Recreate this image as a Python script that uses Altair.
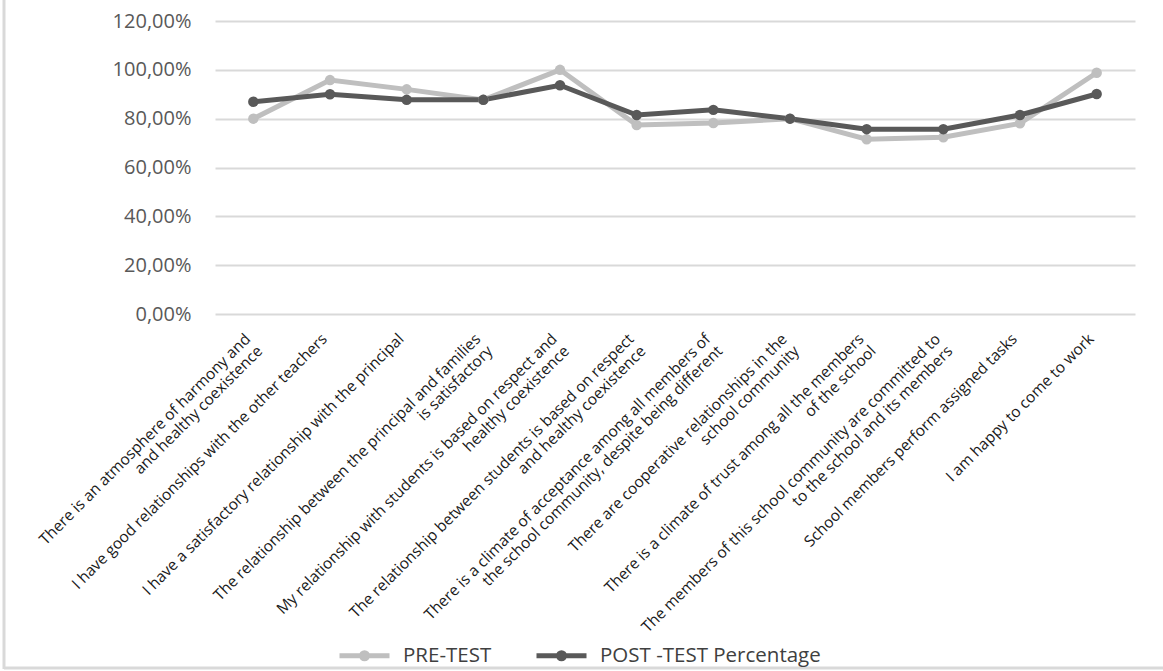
import altair as alt
import pandas as pd

categories = [
    "There is an atmosphere of harmony and\nand healthy coexistence",
    "I have good relationships with the other teachers",
    "I have a satisfactory relationship with the principal",
    "The relationship between the principal and families\nis satisfactory",
    "My relationship with students is based on respect and\nhealthy coexistence",
    "The relationship between students is based on respect\nand healthy coexistence",
    "There is a climate of acceptance among all members of\nthe school community, despite being different",
    "There are cooperative relationships in the\nschool community",
    "There is a climate of trust among all the members\nof the school",
    "The members of this school community are committed to\nto the school and its members",
    "School members perform assigned tasks",
    "I am happy to come to work",
]
pre_test = [0.80, 0.958, 0.92, 0.877, 1.00, 0.774, 0.782, 0.80, 0.716, 0.724, 0.781, 0.988]
post_test = [0.869, 0.90, 0.877, 0.877, 0.937, 0.815, 0.836, 0.80, 0.757, 0.757, 0.815, 0.901]
series_names = ["PRE-TEST", "POST -TEST Percentage"]
y_ticks = [0, 0.2, 0.4, 0.6, 0.8, 1.0, 1.2]

rows = []
for i, c in enumerate(categories):
    rows.append({"item": c, "series": series_names[0], "value": pre_test[i], "order": i})
    rows.append({"item": c, "series": series_names[1], "value": post_test[i], "order": i})
df = pd.DataFrame(rows)

FONT = "Open Sans"
color_scale = alt.Scale(domain=series_names, range=["#BFBFBF", "#595959"])

legend_symbol = "M -1 0 L 1 0 M -0.12 0 A 0.12 0.12 0 1 1 0.12 0 A 0.12 0.12 0 1 1 -0.12 0 Z"

x_enc = alt.X(
    "item:N",
    sort=categories,
    title=None,
    axis=alt.Axis(
        labelAngle=-45,
        labelAlign="right",
        labelBaseline="middle",
        labelExpr="split(datum.label, '\\n')",
        labelFont=FONT,
        labelFontSize=15.5,
        labelColor="#1a1a1a",
        labelPadding=22,
        labelOffset=-6,
        labelLimit=0,
        labelLineHeight=17,
        ticks=False,
        domain=False,
        grid=False,
    ),
)
y_enc = alt.Y(
    "value:Q",
    title=None,
    scale=alt.Scale(domain=[0, 1.2], nice=False),
    axis=alt.Axis(
        values=y_ticks,
        labelExpr="replace(format(datum.value, '.2%'), '.', ',')",
        labelFont=FONT,
        labelFontSize=20,
        labelColor="#595959",
        labelPadding=24,
        ticks=False,
        domain=False,
        grid=True,
        gridColor="#D9D9D9",
        gridWidth=2,
    ),
)
color_enc = alt.Color(
    "series:N",
    scale=color_scale,
    sort=series_names,
    legend=alt.Legend(
        title=None,
        orient="none",
        direction="horizontal",
        legendX=122,
        legendY=607,
        symbolType=legend_symbol,
        symbolSize=2500,
        symbolStrokeWidth=5,
        labelFont=FONT,
        labelFontSize=20.5,
        labelColor="#404040",
        labelOffset=11,
        labelLimit=0,
        columnPadding=34,
    ),
)

base = alt.Chart(df).encode(x=x_enc, y=y_enc, color=color_enc, order="order:Q")
lines = base.mark_line(strokeWidth=5)
points = base.mark_point(filled=True, size=110, opacity=1)

frame_left = alt.Chart(alt.Data(values=[{"a": 1}])).mark_rule(color="#D9D9D9", strokeWidth=3).encode(
    x=alt.value(-211), y=alt.value(-21), y2=alt.value(648)
)
frame_bottom = alt.Chart(alt.Data(values=[{"a": 1}])).mark_rule(color="#D9D9D9", strokeWidth=3).encode(
    x=alt.value(-211), x2=alt.value(948), y=alt.value(647)
)

chart = (
    alt.layer(lines, points, frame_left, frame_bottom)
    .properties(
        width=920,
        height=293,
        padding={"left": 215, "top": 21, "right": 28, "bottom": 357},
        autosize=alt.AutoSizeParams(type="none"),
    )
    .configure(background="white", view=alt.ViewConfig(stroke="transparent", strokeWidth=0))
)

chart.save("out.html", embed_options={"renderer": "svg", "actions": False})
